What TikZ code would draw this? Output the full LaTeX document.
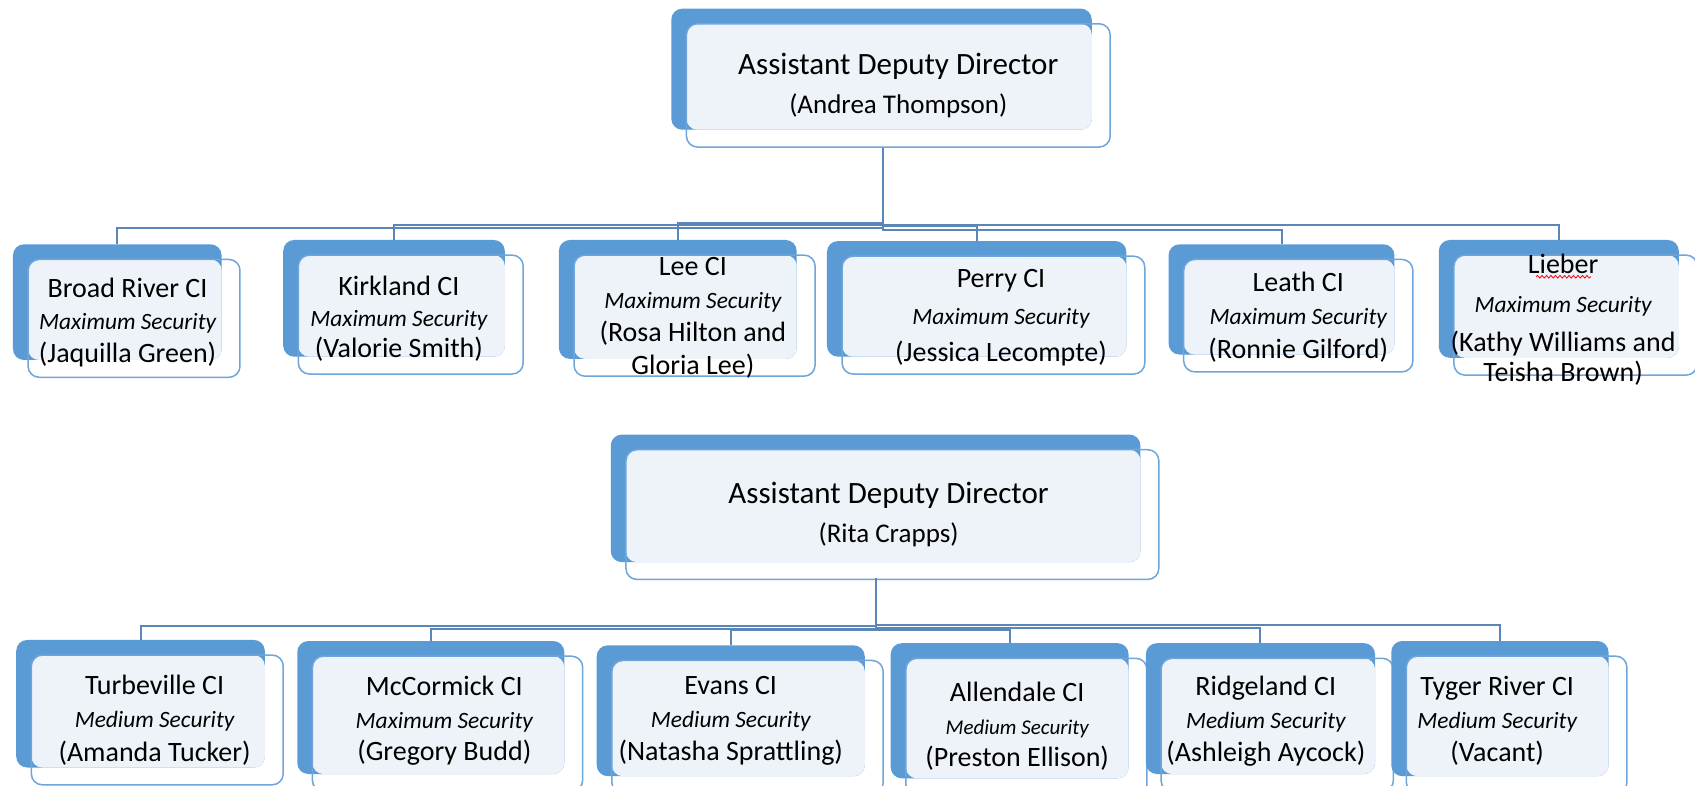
\documentclass[tikz,border=0pt]{standalone}
\usepackage{fontspec}
\setmainfont{Carlito}
\usetikzlibrary{fit,decorations.pathmorphing}
\definecolor{backblue}{HTML}{5B9BD5}
\definecolor{lightfill}{HTML}{EEF3FA}
\definecolor{frontline}{HTML}{6FA5DA}
\definecolor{conn}{HTML}{5B87B8}
\tikzset{
  backbox/.style={draw=none, fill=backblue, rounded corners=11pt, inner sep=0pt, outer sep=0pt},
  frontbox/.style={draw=frontline, line width=1.5pt, rounded corners=11pt, inner sep=0pt, outer sep=0pt},
  lightbox/.style={fill=lightfill, rounded corners=11pt},
  connector/.style={draw=conn, line width=2pt},
  txt/.style={align=center, inner sep=0pt, font=\fontsize{28}{32.4}\selectfont},
  dirtxt/.style={align=center, inner sep=0pt, font=\fontsize{31}{39}\selectfont},
  spell/.style={draw=red, line width=0.8pt, decorate, decoration={snake, amplitude=1.3pt, segment length=4.5pt}}
}
\newcommand{\secline}[1]{{\itshape\fontsize{23.4}{32}\selectfont #1}}
\newcommand{\orgunit}[5]{%
  \node[backbox, fit={(#2,#3) (#4,#5)}] (#1b) {};
  \fill[lightbox] ({#2+14},{#3+14}) rectangle (#4,#5);
  \node[frontbox, fit={({#2+14},{#3+14}) ({#4+17},{#5+16})}] (#1) {};
}
\begin{document}
\begin{tikzpicture}[x=1.081pt,y=-1.081pt]
\useasboundingbox (0,0) rectangle (1568,727);
\fill[white] (0,0) rectangle (1568,727);

% ---------- first director ----------
\orgunit{A}{621}{8}{1010}{120}
\node[dirtxt] (At) at (831,79) {Assistant Deputy Director\\{\fontsize{27}{39}\selectfont(Andrea Thompson)}};
\coordinate (Aout) at (817,137);

\orgunit{br}{12}{226}{205}{333}
\orgunit{ki}{262}{222}{467}{330}
\orgunit{le}{517}{222}{737}{332}
\orgunit{pe}{765}{223}{1042}{330}
\orgunit{lt}{1081}{226}{1290}{328}
\orgunit{li}{1331}{222}{1553}{331}

\node[txt] (brt) at (118,298) {Broad River CI\\\secline{Maximum Security}\\(Jaquilla Green)};
\node[txt,font=\fontsize{28}{31.3}\selectfont] (kit) at (369,295) {Kirkland CI\\\secline{Maximum Security}\\(Valorie Smith)};
\node[txt,font=\fontsize{28}{32.8}\selectfont] (let) at (641,294) {Lee CI\\\secline{Maximum Security}\\(Rosa Hilton and\\Gloria Lee)};
\node[txt,font=\fontsize{28}{36.8}\selectfont] (pet) at (926,294) {Perry CI\\\secline{Maximum Security}\\(Jessica Lecompte)};
\node[txt,font=\fontsize{28}{33.5}\selectfont] (ltt) at (1201,293) {Leath CI\\\secline{Maximum Security}\\(Ronnie Gilford)};
\node[txt,font=\fontsize{28}{30.3}\selectfont] (lit) at (1446,296) {Lieber\\[8.6pt]\secline{Maximum Security}\\[8.6pt](Kathy Williams and\\Teisha Brown)};
\draw[spell] (1421,256) -- (1472,256);

\draw[connector] (Aout) -- ++(0,74) -| (brb.north);
\draw[connector] (Aout) -- ++(0,71) -| (kib.north);
\draw[connector] (Aout) -- ++(0,69) -| (leb.north);
\draw[connector] (Aout) -- ++(0,72) -| (peb.north);
\draw[connector] (Aout) -- ++(0,76) -| (ltb.north);
\draw[connector] (Aout) -- ++(0,71) -| (lib.north);

% ---------- second director ----------
\orgunit{B}{565}{402}{1055}{520}
\node[dirtxt] (Bt) at (822,476) {Assistant Deputy Director\\{\fontsize{27}{39}\selectfont(Rita Crapps)}};
\coordinate (Bout) at (810,535);

\orgunit{tu}{15}{592}{245}{710}
\orgunit{mc}{275}{593}{522}{716}
\orgunit{ev}{552}{597}{800}{718}
\orgunit{al}{824}{595}{1044}{720}
\orgunit{ri}{1060}{595}{1272}{716}
\orgunit{ty}{1287}{593}{1488}{718}

\node[txt,font=\fontsize{28}{33.5}\selectfont] (tut) at (143,666) {Turbeville CI\\\secline{Medium Security}\\(Amanda Tucker)};
\node[txt] (mct) at (411,667) {McCormick CI\\\secline{Maximum Security}\\(Gregory Budd)};
\node[txt,font=\fontsize{28}{33}\selectfont] (evt) at (676,667) {Evans CI\\\secline{Medium Security}\\(Natasha Sprattling)};
\node[txt] (alt) at (941,672) {Allendale CI\\{\itshape\fontsize{21}{32}\selectfont Medium Security}\\(Preston Ellison)};
\node[txt,font=\fontsize{28}{33}\selectfont] (rit) at (1171,667) {Ridgeland CI\\\secline{Medium Security}\\(Ashleigh Aycock)};
\node[txt,font=\fontsize{28}{33}\selectfont] (tyt) at (1385,667) {Tyger River CI\\\secline{Medium Security}\\(Vacant)};

\draw[connector] (Bout) -- ++(0,44) -| (tub.north);
\draw[connector] (Bout) -- ++(0,47) -| (mcb.north);
\draw[connector] (Bout) -- ++(0,48) -| (evb.north);
\draw[connector] (Bout) -- ++(0,48) -| (alb.north);
\draw[connector] (Bout) -- ++(0,46) -| (rib.north);
\draw[connector] (Bout) -- ++(0,43) -| (tyb.north);
\end{tikzpicture}
\end{document}
